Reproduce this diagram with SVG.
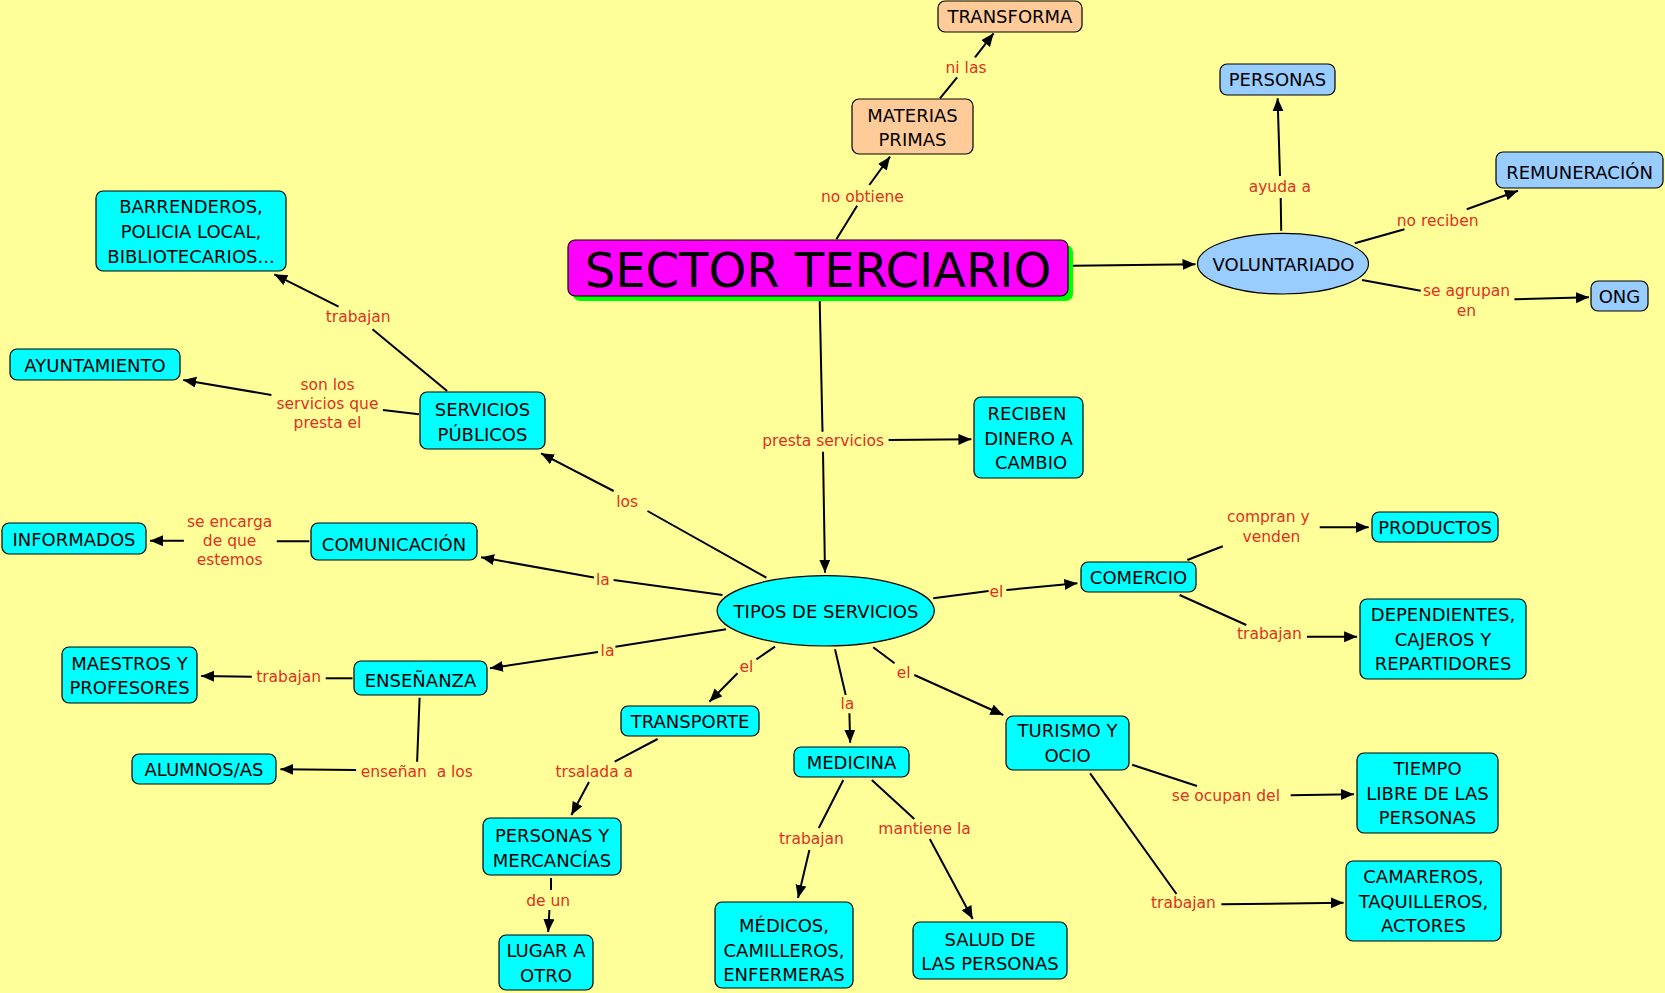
<svg xmlns="http://www.w3.org/2000/svg" width="1665" height="993" viewBox="0 0 1665 993">
<style>
.bg{fill:#FFFF99}
.n{stroke:#000;stroke-width:1.2}
.c{fill:#00FFFF}
.p{fill:#FFCC99}
.b{fill:#99CCFF}
.t{font-family:"DejaVu Sans",Verdana,sans-serif;font-size:18px;fill:#000;text-anchor:middle}
.l{font-family:"DejaVu Sans",Verdana,sans-serif;font-size:15.5px;fill:#E0301E;text-anchor:middle;white-space:pre}
.e line{stroke:#000;stroke-width:2;fill:none}
.e line.a{marker-end:url(#ar)}
</style>
<defs>
<marker id="ar" markerUnits="userSpaceOnUse" markerWidth="14" markerHeight="12" refX="13" refY="5.5" orient="auto">
<path d="M0,0 L13,5.5 L0,11 z" fill="#000"/>
</marker>
</defs>
<rect class="bg" x="0" y="0" width="1665" height="993"/>

<g id="connectors" class="e">
<line x1="836.4" y1="239.3" x2="857.1" y2="205.7"/><line class="a" x1="869.3" y1="185" x2="890" y2="156.7"/>
<line x1="940" y1="98.3" x2="957.1" y2="77.3"/><line class="a" x1="975" y1="57.3" x2="993.6" y2="33.3"/>
<line class="a" x1="1073" y1="265.7" x2="1195.5" y2="264.3"/>
<line x1="1281.2" y1="230.7" x2="1280.7" y2="198"/><line class="a" x1="1280" y1="176" x2="1277.6" y2="98.3"/>
<line x1="1354.8" y1="243.3" x2="1404.5" y2="229.3"/><line class="a" x1="1466.8" y1="209.3" x2="1518" y2="190.7"/>
<line x1="1362" y1="280" x2="1420.7" y2="290.7"/><line class="a" x1="1514.4" y1="299.3" x2="1589" y2="297.3"/>
<line x1="819.6" y1="296" x2="822.5" y2="431.7"/><line class="a" x1="823" y1="451.7" x2="825" y2="572.7"/>
<line class="a" x1="888.6" y1="440" x2="971.4" y2="439.3"/>
<line x1="766.4" y1="577.7" x2="647.5" y2="511"/><line class="a" x1="613.6" y1="491" x2="541" y2="453.3"/>
<line x1="722.5" y1="595" x2="613.6" y2="580"/><line class="a" x1="594" y1="577.5" x2="481.1" y2="557.3"/>
<line x1="726.1" y1="629.3" x2="615.4" y2="646.7"/><line class="a" x1="598" y1="652" x2="490" y2="668.3"/>
<line x1="933.2" y1="598.3" x2="988.6" y2="591"/><line class="a" x1="1006.4" y1="590" x2="1077.4" y2="583.3"/>
<line x1="775" y1="646.7" x2="756.4" y2="659.3"/><line class="a" x1="737.5" y1="673.3" x2="709.4" y2="701.7"/>
<line x1="835" y1="649.3" x2="845.7" y2="695"/><line class="a" x1="849.4" y1="713.3" x2="850.2" y2="742.7"/>
<line x1="873.2" y1="647.3" x2="894.6" y2="663.3"/><line class="a" x1="914.3" y1="675" x2="1003.3" y2="715"/>
<line x1="447.1" y1="391" x2="372.5" y2="329.3"/><line class="a" x1="338.6" y1="306.7" x2="274.3" y2="274.3"/>
<line x1="418.9" y1="414.3" x2="382.9" y2="410"/><line class="a" x1="271.4" y1="395" x2="183.2" y2="380"/>
<line x1="309.3" y1="541.3" x2="276.8" y2="541.3"/><line class="a" x1="183.9" y1="540.7" x2="150" y2="540.7"/>
<line x1="352.5" y1="678.3" x2="325.7" y2="678.3"/><line class="a" x1="251.8" y1="676.7" x2="201.1" y2="676"/>
<line x1="419.6" y1="697.7" x2="417.1" y2="761.7"/><line class="a" x1="356.1" y1="770" x2="280.4" y2="769.3"/>
<line x1="1187.3" y1="560" x2="1222.8" y2="546.3"/><line class="a" x1="1319.7" y1="527.3" x2="1368.7" y2="527.3"/>
<line x1="1179.6" y1="595" x2="1246.3" y2="625"/><line class="a" x1="1306.9" y1="636.7" x2="1357.1" y2="636.7"/>
<line x1="657.6" y1="739" x2="614.7" y2="761.7"/><line class="a" x1="589" y1="782" x2="571.4" y2="815"/>
<line x1="551" y1="878" x2="551" y2="890"/><line class="a" x1="549.4" y1="910" x2="548.2" y2="932"/>
<line x1="843.3" y1="780" x2="818.8" y2="828"/><line class="a" x1="809.4" y1="850" x2="798" y2="898"/>
<line x1="871.8" y1="780" x2="914.3" y2="819"/><line class="a" x1="929.8" y1="839" x2="972.7" y2="919"/>
<line x1="1132.1" y1="764.7" x2="1197" y2="786"/><line class="a" x1="1290.7" y1="795.3" x2="1354" y2="794.3"/>
<line x1="1090.1" y1="773.3" x2="1176.5" y2="894"/><line class="a" x1="1221.3" y1="904.3" x2="1343.6" y2="902.7"/>
</g>

<g id="labels">
<text class="l" x="862.4" y="201.5">no obtiene</text>
<text class="l" x="966" y="73">ni las</text>
<text class="l" x="1279.8" y="192">ayuda a</text>
<text class="l" x="1437.6" y="225.5">no reciben</text>
<text class="l" x="1466.5" y="296">se agrupan</text>
<text class="l" x="1466.5" y="315.5">en</text>
<text class="l" x="358.2" y="322">trabajan</text>
<text class="l" x="327.5" y="389.5">son los</text>
<text class="l" x="327.5" y="408.8">servicios que</text>
<text class="l" x="327.5" y="428.2">presta el</text>
<text class="l" x="229.6" y="526.5">se encarga</text>
<text class="l" x="229.6" y="545.8">de que</text>
<text class="l" x="229.6" y="564.8">estemos</text>
<text class="l" x="288.6" y="682">trabajan</text>
<text class="l" x="416.8" y="776.5">enseñan  a los</text>
<text class="l" x="823.2" y="445.5">presta servicios</text>
<text class="l" x="627.1" y="507">los</text>
<text class="l" x="602.9" y="585">la</text>
<text class="l" x="607.5" y="656">la</text>
<text class="l" x="996.4" y="597">el</text>
<text class="l" x="746.4" y="671.5">el</text>
<text class="l" x="903.6" y="677.8">el</text>
<text class="l" x="847.3" y="708.8">la</text>
<text class="l" x="1268.3" y="522">compran y</text>
<text class="l" x="1271.4" y="541.5">venden</text>
<text class="l" x="1269.5" y="639">trabajan</text>
<text class="l" x="594.3" y="777">trsalada a</text>
<text class="l" x="548.2" y="905.5">de un</text>
<text class="l" x="811.4" y="843.5">trabajan</text>
<text class="l" x="924.5" y="833.5">mantiene la</text>
<text class="l" x="1225.9" y="800.5">se ocupan del</text>
<text class="l" x="1183.5" y="907.5">trabajan</text>
</g>

<g id="n-transforma"><rect class="n p" x="938" y="1" width="144" height="31" rx="7"/><text class="t" x="1010" y="23">TRANSFORMA</text></g>
<g id="n-materias"><rect class="n p" x="852" y="99" width="121" height="55" rx="7"/><text class="t" x="912.5" y="121.5">MATERIAS</text><text class="t" x="912.5" y="146">PRIMAS</text></g>
<g id="n-sector"><rect x="573" y="245" width="500" height="56" rx="7" fill="#00FF00"/><rect class="n" x="568" y="240" width="500" height="56" rx="7" fill="#FF00FF"/><text class="t" x="818" y="286.7" style="font-size:48px">SECTOR TERCIARIO</text></g>
<g id="n-personas"><rect class="n b" x="1220" y="64" width="115" height="31" rx="7"/><text class="t" x="1277.5" y="86">PERSONAS</text></g>
<g id="n-remuneracion"><rect class="n b" x="1496" y="152" width="167" height="36" rx="7"/><text class="t" x="1579.5" y="179">REMUNERACIÓN</text></g>
<g id="n-voluntariado"><ellipse class="n b" cx="1283" cy="263.7" rx="85.5" ry="30.3"/><text class="t" x="1283.5" y="271">VOLUNTARIADO</text></g>
<g id="n-ong"><rect class="n b" x="1591" y="281" width="57" height="30" rx="7"/><text class="t" x="1619.5" y="303">ONG</text></g>
<g id="n-barrenderos"><rect class="n c" x="96" y="191" width="190" height="80" rx="7"/><text class="t" x="191" y="213.3">BARRENDEROS,</text><text class="t" x="191" y="238.3">POLICIA LOCAL,</text><text class="t" x="191" y="262.7">BIBLIOTECARIOS...</text></g>
<g id="n-ayuntamiento"><rect class="n c" x="10" y="349" width="170" height="31" rx="7"/><text class="t" x="95" y="372">AYUNTAMIENTO</text></g>
<g id="n-servicios-publicos"><rect class="n c" x="420" y="392" width="125" height="57" rx="7"/><text class="t" x="482.5" y="416">SERVICIOS</text><text class="t" x="482.5" y="440.7">PÚBLICOS</text></g>
<g id="n-informados"><rect class="n c" x="2" y="523" width="144" height="31" rx="7"/><text class="t" x="74" y="546">INFORMADOS</text></g>
<g id="n-comunicacion"><rect class="n c" x="311" y="523" width="166" height="37" rx="7"/><text class="t" x="394" y="551">COMUNICACIÓN</text></g>
<g id="n-maestros"><rect class="n c" x="62" y="647" width="135" height="56" rx="7"/><text class="t" x="129.5" y="670">MAESTROS Y</text><text class="t" x="129.5" y="694.3">PROFESORES</text></g>
<g id="n-ensenanza"><rect class="n c" x="354" y="661" width="133" height="34" rx="7"/><text class="t" x="420.5" y="687">ENSEÑANZA</text></g>
<g id="n-alumnos"><rect class="n c" x="132" y="754" width="144" height="30" rx="7"/><text class="t" x="204" y="776">ALUMNOS/AS</text></g>
<g id="n-reciben"><rect class="n c" x="974" y="397" width="109" height="81" rx="7"/><text class="t" x="1027" y="420">RECIBEN</text><text class="t" x="1028.5" y="445">DINERO A</text><text class="t" x="1031" y="469.3">CAMBIO</text></g>
<g id="n-tipos"><ellipse class="n c" cx="825.7" cy="610.8" rx="108.6" ry="35.2"/><text class="t" x="826" y="618">TIPOS DE SERVICIOS</text></g>
<g id="n-comercio"><rect class="n c" x="1081" y="562" width="115" height="30" rx="7"/><text class="t" x="1138.5" y="584">COMERCIO</text></g>
<g id="n-productos"><rect class="n c" x="1372" y="512" width="126" height="30" rx="7"/><text class="t" x="1435" y="534">PRODUCTOS</text></g>
<g id="n-dependientes"><rect class="n c" x="1360" y="599" width="166" height="80" rx="7"/><text class="t" x="1443" y="620.7">DEPENDIENTES,</text><text class="t" x="1443" y="645.7">CAJEROS Y</text><text class="t" x="1443" y="670">REPARTIDORES</text></g>
<g id="n-transporte"><rect class="n c" x="621" y="706" width="138" height="30" rx="7"/><text class="t" x="690" y="728">TRANSPORTE</text></g>
<g id="n-medicina"><rect class="n c" x="794" y="747" width="115" height="30" rx="7"/><text class="t" x="851.5" y="769">MEDICINA</text></g>
<g id="n-turismo"><rect class="n c" x="1006" y="716" width="123" height="54" rx="7"/><text class="t" x="1067.5" y="737">TURISMO Y</text><text class="t" x="1067.5" y="762">OCIO</text></g>
<g id="n-tiempo"><rect class="n c" x="1357" y="753" width="141" height="80" rx="7"/><text class="t" x="1427.5" y="775">TIEMPO</text><text class="t" x="1427.5" y="800">LIBRE DE LAS</text><text class="t" x="1427.5" y="824.3">PERSONAS</text></g>
<g id="n-camareros"><rect class="n c" x="1346" y="861" width="155" height="80" rx="7"/><text class="t" x="1423.5" y="883.3">CAMAREROS,</text><text class="t" x="1423.5" y="908.3">TAQUILLEROS,</text><text class="t" x="1423.5" y="932.3">ACTORES</text></g>
<g id="n-personas-mercancias"><rect class="n c" x="483" y="818" width="138" height="57" rx="7"/><text class="t" x="552" y="841.7">PERSONAS Y</text><text class="t" x="552" y="866.7">MERCANCÍAS</text></g>
<g id="n-lugar"><rect class="n c" x="499" y="935" width="94" height="55" rx="7"/><text class="t" x="546" y="957.3">LUGAR A</text><text class="t" x="546" y="982.3">OTRO</text></g>
<g id="n-medicos"><rect class="n c" x="715" y="902" width="138" height="86" rx="7"/><text class="t" x="784" y="931.7">MÉDICOS,</text><text class="t" x="784" y="956.7">CAMILLEROS,</text><text class="t" x="784" y="981">ENFERMERAS</text></g>
<g id="n-salud"><rect class="n c" x="913" y="922" width="154" height="57" rx="7"/><text class="t" x="990" y="946">SALUD DE</text><text class="t" x="990" y="970">LAS PERSONAS</text></g>
</svg>
